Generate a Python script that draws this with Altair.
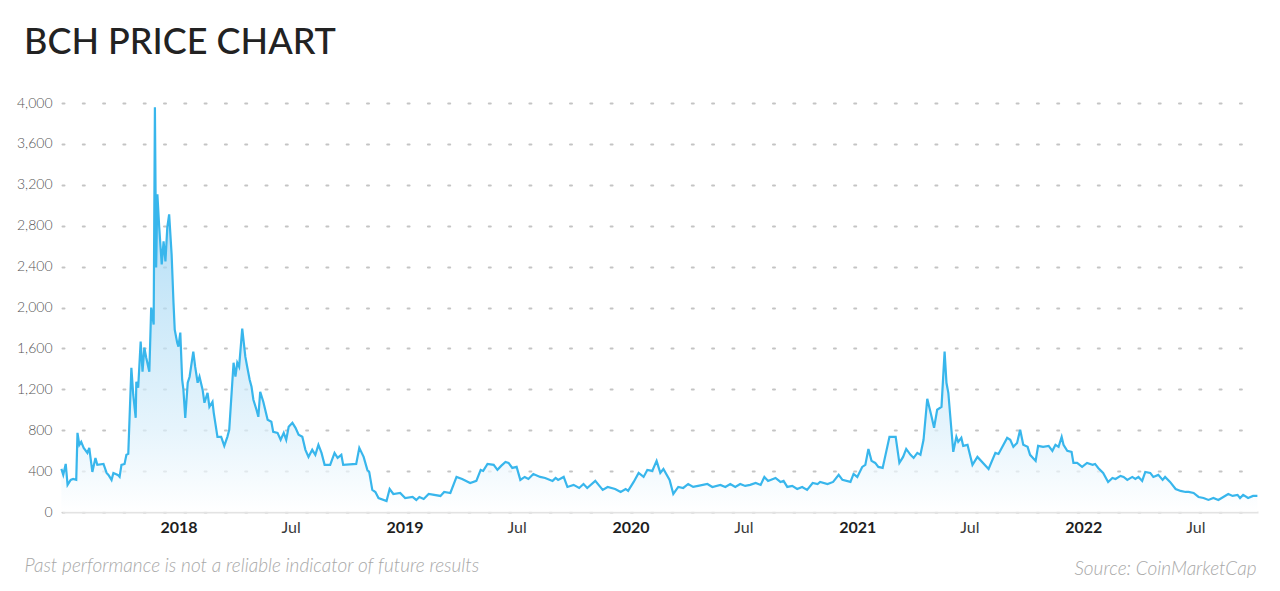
import altair as alt
import pandas as pd

title_text = "BCH PRICE CHART"
disclaimer = "Past performance is not a reliable indicator of future results"
source_text = "Source: CoinMarketCap"

# days counted from 2018-01-01, prices in USD
base_date = "2018-01-01"
day_offsets = [
    -189, -186, -182, -179, -174, -170, -165, -163, -160, -157, -153, -147, -144, -139, -134, -131,
    -121, -116, -113, -108, -105, -98, -95, -92, -87, -84, -81, -76, -73, -69, -68, -65, -61, -58,
    -55, -52, -47, -44, -40, -38, -36, -34, -31, -27, -24, -21, -18, -15, -11, -8, -6, -2, 0, 3, 6,
    8, 11, 15, 18, 24, 27, 31, 34, 39, 42, 47, 50, 55, 57, 63, 69, 74, 79, 82, 89, 92, 95, 98, 103,
    108, 111, 115, 118, 121, 126, 129, 132, 137, 144, 150, 153, 160, 165, 170, 174, 178, 184, 189,
    194, 200, 205, 210, 216, 221, 226, 231, 236, 245, 252, 257, 263, 266, 287, 292, 299, 305, 308,
    313, 318, 323, 336, 341, 347, 358, 366, 378, 384, 389, 396, 404, 423, 429, 439,
    449, 458, 471, 481, 488, 492, 499, 509, 515, 521, 528, 533, 539, 546, 552, 559, 565, 573, 584,
    592, 604, 609, 613, 622, 628, 638, 647, 654, 660, 673, 685, 693, 705, 714, 722, 726,
    735, 743, 751, 757, 765, 772, 778, 783, 793, 799, 807, 815, 823, 831, 839, 854, 862, 875, 883,
    891, 899, 907, 915, 923, 932, 940, 946, 952, 964, 972, 977, 983, 991, 999, 1007, 1015, 1024,
    1032, 1036, 1048, 1057, 1066, 1072, 1085, 1090, 1096,
    1104, 1109, 1114, 1119, 1125, 1130, 1137, 1148, 1158, 1164, 1170, 1175, 1182, 1187, 1193, 1198,
    1203, 1209, 1216, 1220, 1225, 1232, 1237, 1240, 1243, 1248, 1251, 1256, 1259, 1264, 1267, 1274,
    1282, 1290, 1308, 1319, 1324, 1338, 1343, 1348, 1354, 1359, 1364, 1371, 1375, 1384, 1388, 1396,
    1405, 1411, 1416, 1421, 1426, 1429, 1435, 1442, 1445, 1451, 1459,
    1467, 1476, 1480, 1485, 1493, 1501, 1508, 1513, 1521, 1526, 1532, 1540, 1545, 1550, 1556, 1561,
    1569, 1574, 1582, 1589, 1593, 1601, 1610, 1618, 1626, 1631, 1639, 1647, 1655, 1663, 1671, 1679,
    1687, 1695, 1702, 1710, 1714, 1719, 1727, 1735, 1742,
]
prices = [
    421, 363, 470, 265, 314, 323, 314, 774, 657, 686, 627, 578, 627, 392, 529, 461,
    470, 382, 363, 314, 382, 363, 343, 461, 470, 559, 568, 1411, 1147, 921, 1274, 1215, 1666, 1372,
    1607, 1509, 1372, 1999, 1833, 3959, 2391, 3107, 2783, 2421, 2646, 2450, 2783, 2911, 2519, 2048, 1784, 1656, 1617, 1754, 1294,
    1196, 921, 1264, 1323, 1568, 1421, 1264, 1323, 1196, 1068, 1166, 1029, 1078, 970, 735, 735, 647, 735, 804, 1460, 1323, 1460, 1421, 1793,
    1519, 1421, 1294, 1225, 1098, 1000, 931, 1176, 1078, 902, 882, 784, 774, 706, 774, 706, 833, 872, 823,
    755, 735, 608, 539, 608, 559, 657, 578, 461, 461, 578, 529, 559, 461, 470, 627, 539, 412, 392,
    216, 196, 137, 108, 225, 176, 186, 137, 147, 118, 147, 127, 176, 157, 196, 186,
    343, 323, 284, 304, 412, 402, 470, 461, 412, 451, 490, 480, 431, 441, 314, 343, 323, 372, 343,
    333, 304, 333, 314, 343, 245, 265, 235, 274, 235, 304, 216, 245, 225, 196, 225, 206,
    294, 382, 343, 412, 402, 500, 382, 421, 314, 176, 245, 235, 274, 245, 255, 274, 245, 265, 245,
    274, 245, 274, 255, 265, 284, 265, 343, 304, 333, 294, 304, 245, 255, 225, 245, 216, 284,
    274, 294, 274, 294, 363, 314, 294, 372, 343,
    441, 461, 617, 500, 480, 441, 431, 735, 735, 480, 539, 617, 559, 529, 578, 559,
    706, 1107, 931, 823, 1000, 1029, 1568, 1264, 1166, 804, 588, 735, 686, 725, 647, 657,
    461, 539, 421, 578, 568, 725, 706, 637, 676, 804, 657, 637, 559, 500, 647, 637,
    647, 598, 657, 637, 735, 657, 598, 588, 480, 480, 441,
    480, 461, 470, 431, 382, 294, 333, 323, 353, 343, 314, 343, 323, 343, 304, 392,
    382, 343, 363, 314, 343, 294, 225, 206, 196, 196, 186, 147, 137, 118, 137, 118,
    147, 176, 157, 167, 137, 167, 137, 157, 157,
]
assert len(day_offsets) == len(prices), (len(day_offsets), len(prices))

x_tick_dates = [(2018, 1), (2018, 7), (2019, 1), (2019, 7), (2020, 1), (2020, 7),
                (2021, 1), (2021, 7), (2022, 1), (2022, 7)]
y_ticks = [0, 400, 800, 1200, 1600, 2000, 2400, 2800, 3200, 3600, 4000]

df = pd.DataFrame({
    "date": pd.Timestamp(base_date) + pd.to_timedelta(day_offsets, unit="D"),
    "price": prices,
})

FONT = "Lato"

gradient = alt.Gradient(
    gradient="linear",
    stops=[alt.GradientStop(color="#72c3ef", offset=0),
           alt.GradientStop(color="#b6dff6", offset=0.5),
           alt.GradientStop(color="#dcf0fb", offset=0.8),
           alt.GradientStop(color="#ffffff", offset=1)],
    x1=0, x2=0, y1=0, y2=1,
)

x_axis = alt.Axis(
    values=[alt.DateTime(year=y, month=m, date=1) for y, m in x_tick_dates],
    labelExpr="month(datum.value) === 0 ? timeFormat(datum.value, '%Y') : 'Jul'",
    labelFontWeight={"condition": {"test": "month(datum.value) === 0", "value": "bold"}, "value": "normal"},
    labelColor={"condition": {"test": "month(datum.value) === 0", "value": "#1e1e1e"}, "value": "#3a3a3a"},
    labelFontSize=16,
    labelFont=FONT,
    labelPadding=15,
    labelBaseline="middle",
    ticks=False,
    grid=False,
    domain=True,
    domainColor="#e3e3e3",
    domainWidth=2,
    title=disclaimer,
    titleFont=FONT,
    titleFontSize=19,
    titleFontStyle="italic",
    titleFontWeight=300,
    titleColor="#a8a8a8",
    titleAlign="left",
    titleAngle=0,
    titleBaseline="middle",
    titleX=-38,
    titleY=53,
)

y_axis = alt.Axis(
    values=y_ticks,
    format=",d",
    labelFontSize=14,
    labelFont=FONT,
    labelFontWeight=300,
    labelColor="#555555",
    labelPadding=10,
    ticks=False,
    domain=False,
    grid=True,
    gridColor="#c4c4c4",
    gridWidth=2,
    gridDash=[2, 18.3],
    gridCap="round",
    title=source_text,
    titleFont=FONT,
    titleFontSize=19,
    titleFontStyle="italic",
    titleFontWeight=300,
    titleColor="#a8a8a8",
    titleAngle=0,
    titleAlign="right",
    titleBaseline="middle",
    titleX=1194,
    titleY=465,
)

chart = alt.Chart(df).mark_area(
    color=gradient,
    line={"color": "#38b6ec", "strokeWidth": 2.2},
    interpolate="linear",
).encode(
    x=alt.X("date:T", axis=x_axis,
            scale=alt.Scale(domain=[alt.DateTime(year=2017, month=6, date=27),
                                    alt.DateTime(year=2022, month=10, date=10)], nice=False)),
    y=alt.Y("price:Q", axis=y_axis, scale=alt.Scale(domain=[0, 4000], nice=False)),
).properties(
    width=1196,
    height=409,
    autosize=alt.AutoSizeParams(type="none"),
    padding={"left": 62, "top": 103, "right": 22, "bottom": 79},
    background="white",
    title=alt.TitleParams(
        title_text, anchor="start", frame="group", dx=-38, offset=6,
        fontSize=36, font=FONT, fontWeight=500, color="#222222", baseline="alphabetic",
    ),
).configure_view(stroke=None)

chart.save("out.html", embed_options={"renderer": "svg", "actions": False})
